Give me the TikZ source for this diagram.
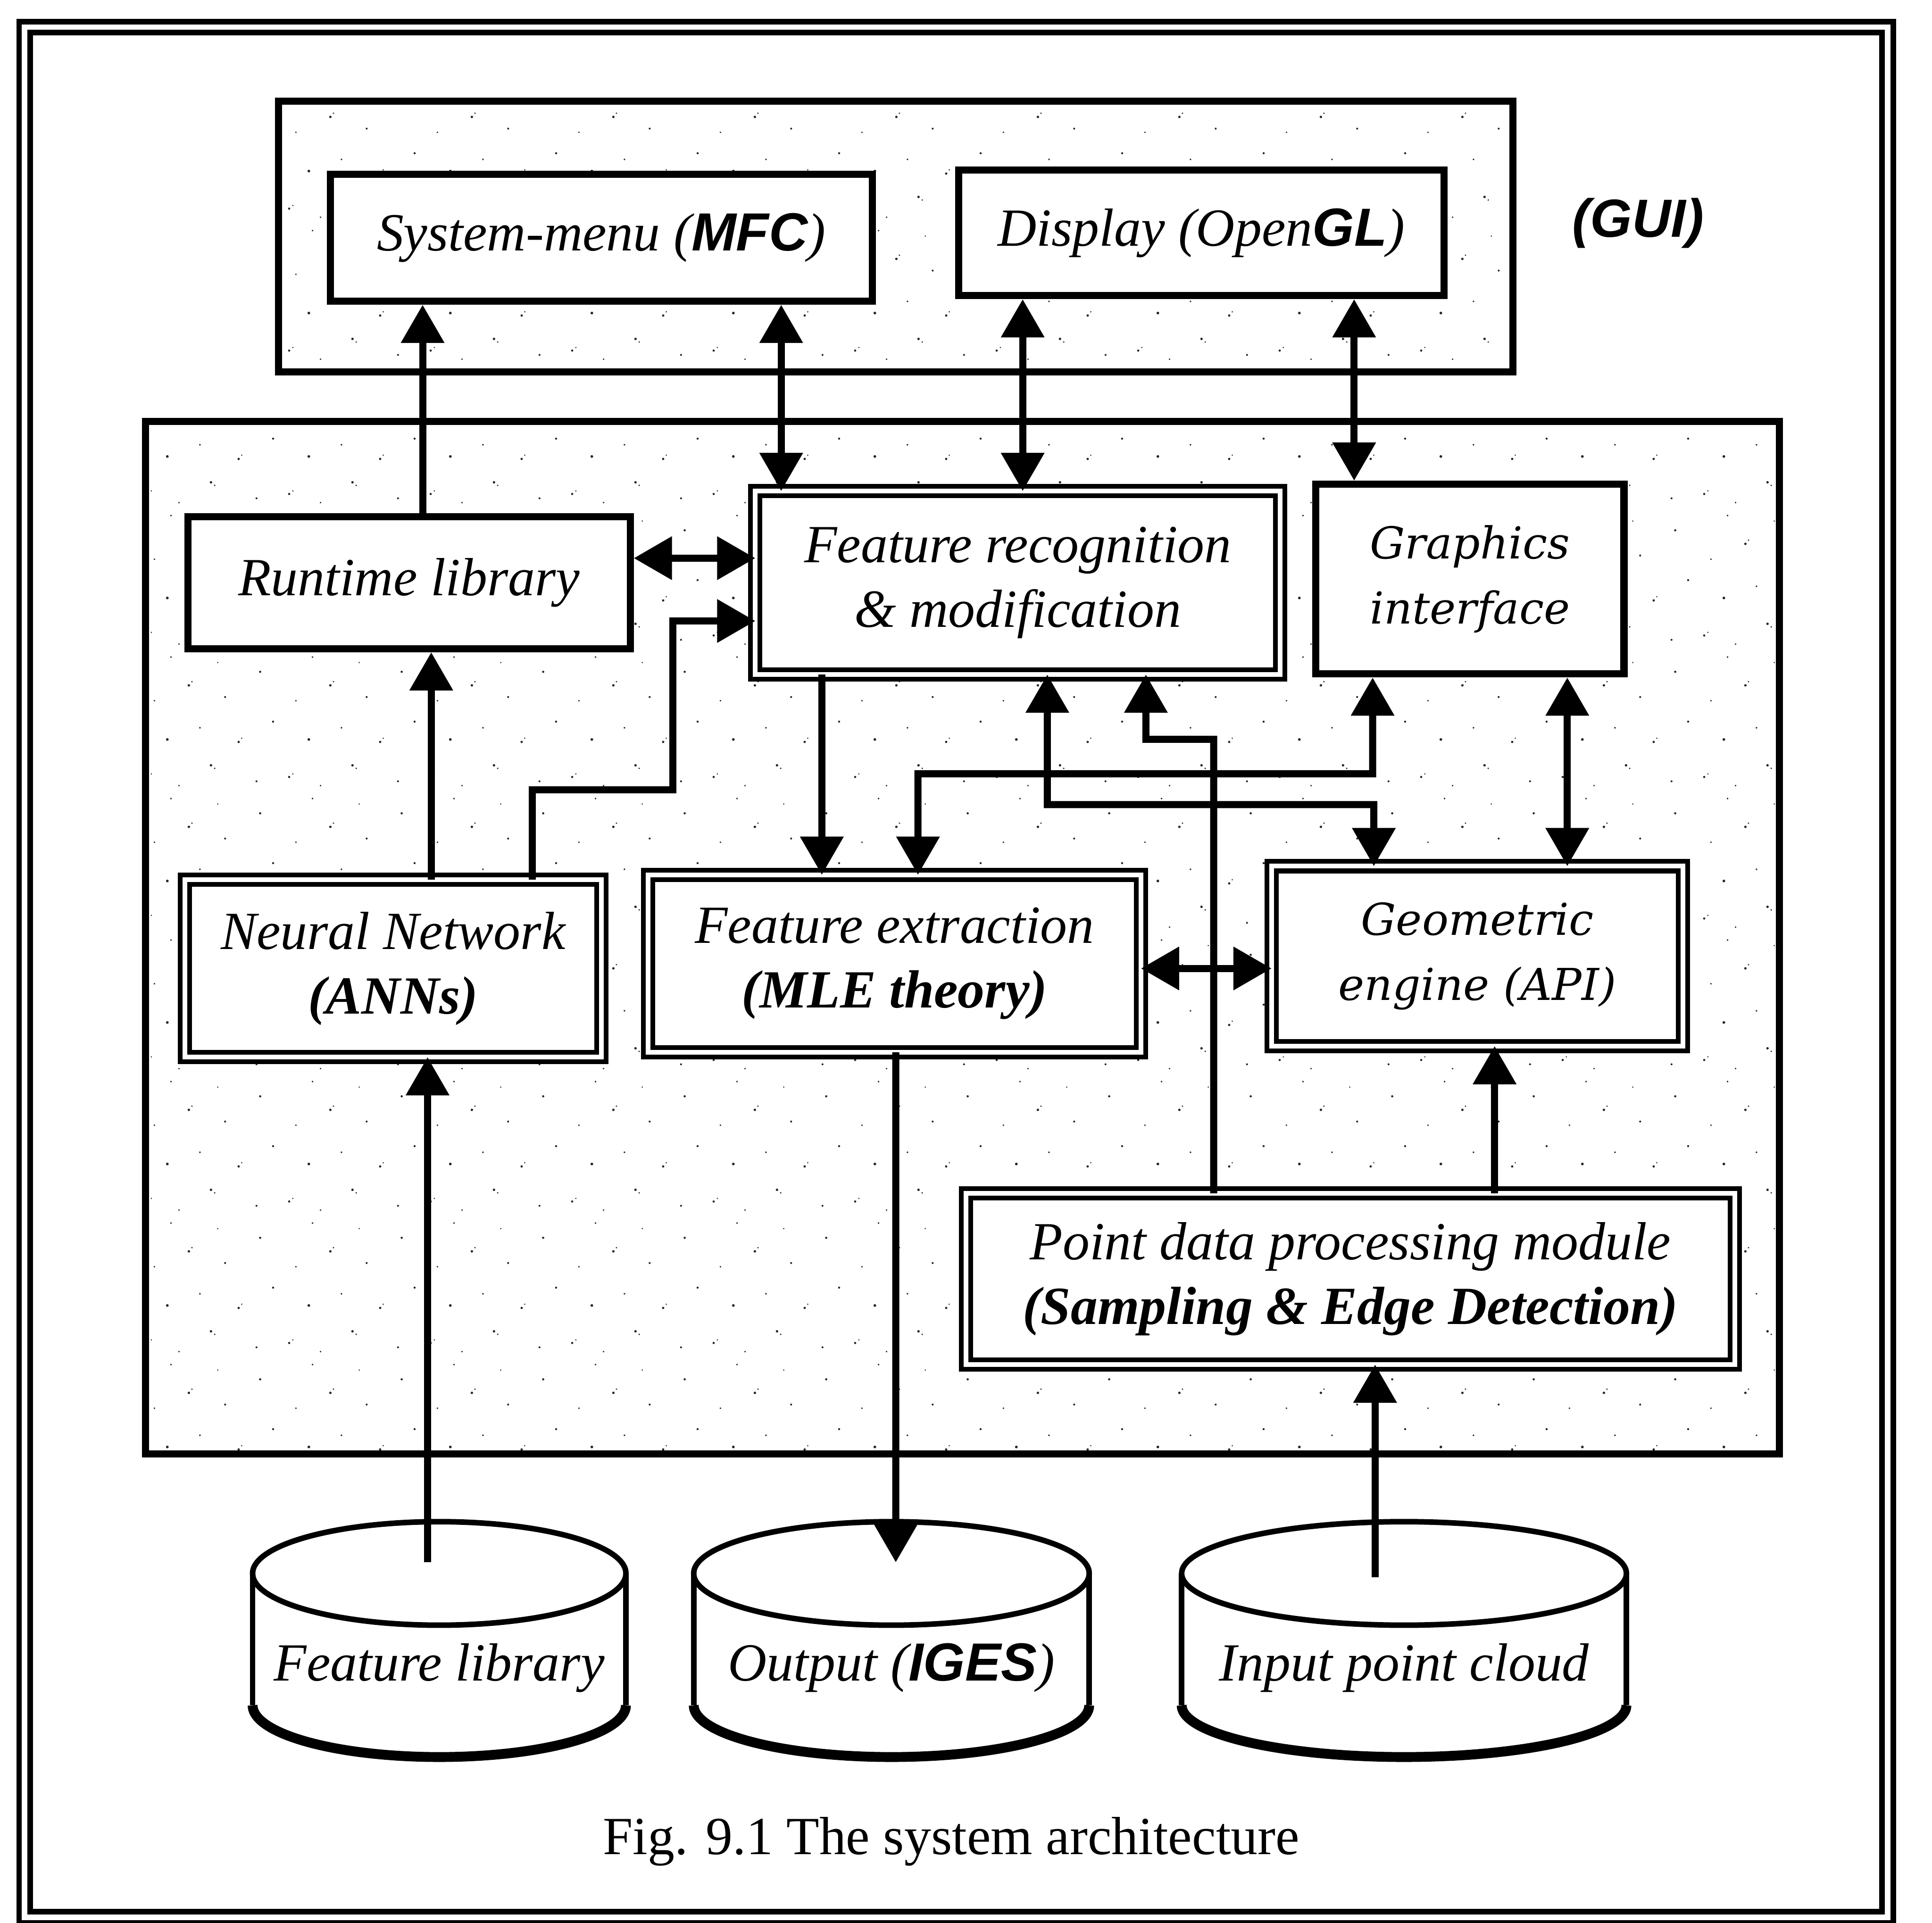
\documentclass[tikz,border=0pt]{standalone}
\usepackage{fontspec}
\setmainfont{Liberation Serif}
\newfontfamily\guifont{Liberation Sans}
\newfontfamily\apifont{DejaVu Serif}
\usepackage{tikz}
\usetikzlibrary{arrows.meta, patterns}

\newcommand{\sansbi}[1]{{\guifont\bfseries\itshape #1}}

% sparse speckle for the two panels
\pgfdeclarepatternformonly{speckle}{\pgfpointorigin}{\pgfpoint{2.3cm}{2.3cm}}{\pgfpoint{2.3cm}{2.3cm}}{%
  \pgfpathcircle{\pgfpoint{0.10cm}{0.22cm}}{0.018cm}
  \pgfpathcircle{\pgfpoint{0.16cm}{0.27cm}}{0.012cm}
  \pgfpathcircle{\pgfpoint{0.61cm}{0.08cm}}{0.014cm}
  \pgfpathcircle{\pgfpoint{1.13cm}{0.41cm}}{0.020cm}
  \pgfpathcircle{\pgfpoint{1.19cm}{0.36cm}}{0.013cm}
  \pgfpathcircle{\pgfpoint{1.87cm}{0.15cm}}{0.016cm}
  \pgfpathcircle{\pgfpoint{0.42cm}{0.83cm}}{0.022cm}
  \pgfpathcircle{\pgfpoint{0.95cm}{1.02cm}}{0.015cm}
  \pgfpathcircle{\pgfpoint{1.58cm}{0.79cm}}{0.019cm}
  \pgfpathcircle{\pgfpoint{1.63cm}{0.85cm}}{0.012cm}
  \pgfpathcircle{\pgfpoint{2.14cm}{1.12cm}}{0.017cm}
  \pgfpathcircle{\pgfpoint{0.21cm}{1.46cm}}{0.014cm}
  \pgfpathcircle{\pgfpoint{0.77cm}{1.71cm}}{0.020cm}
  \pgfpathcircle{\pgfpoint{0.82cm}{1.77cm}}{0.013cm}
  \pgfpathcircle{\pgfpoint{1.36cm}{1.52cm}}{0.016cm}
  \pgfpathcircle{\pgfpoint{1.93cm}{1.93cm}}{0.018cm}
  \pgfpathcircle{\pgfpoint{0.48cm}{2.17cm}}{0.015cm}
  \pgfpathcircle{\pgfpoint{1.24cm}{2.08cm}}{0.012cm}
  \pgfusepath{fill}}

\begin{document}
\begin{tikzpicture}[
  txt/.style={font=\fontsize{24.8pt}{29.8pt}\selectfont\itshape},
  box/.style={txt, rectangle, draw, fill=white, line width=0.115cm, align=center, inner sep=0pt},
  dbox/.style={box, line width=0.077cm, double, double distance=0.077cm, outer sep=0pt},
  api/.style={font=\apifont\fontsize{20.3pt}{30pt}\selectfont\itshape},
  panel/.style={draw, line width=0.115cm, pattern=speckle, pattern color=black!85},
  store/.style={line width=0.09cm},
  arr/.style={line width=0.115cm, -{Triangle[length=0.62cm, width=0.68cm]}},
  darr/.style={line width=0.115cm, {Triangle[length=0.62cm, width=0.68cm]}-{Triangle[length=0.62cm, width=0.68cm]}}]

  \useasboundingbox (0,0) rectangle (31.36,-31.21);

  % page frame
  \draw[line width=0.09cm, double, double distance=0.09cm] (0.4,-0.44) rectangle (30.64,-31.12);

  % GUI panel and core panel
  \draw[panel] (4.52,-1.64) rectangle (24.56,-6.04);
  \draw[panel] (2.36,-6.84) rectangle (28.88,-23.6);
  \node[font=\fontsize{24.8pt}{29.8pt}\selectfont, anchor=base] (guilbl) at (26.59,-3.85) {\sansbi{(GUI)}};

  % GUI
  \node[box, minimum width=8.8cm, minimum height=2.06cm] (sm) at (9.76,-3.86) {System-menu (\sansbi{MFC})};
  \node[box, minimum width=7.88cm, minimum height=2.04cm] (disp) at (19.5,-3.78) {Display (Open\sansbi{GL})};

  % core modules
  \node[box, minimum width=7.18cm, minimum height=2.14cm] (rt) at (6.64,-9.46) {Runtime library};
  \node[dbox, minimum width=8.52cm, minimum height=2.98cm] (fr) at (16.52,-9.46) {Feature recognition\\ \& modification};
  \node[box, api, minimum width=5.0cm, minimum height=3.08cm] (gi) at (23.86,-9.4) {Graphics\\ interface};
  \node[dbox, minimum width=6.76cm, minimum height=2.88cm] (nn) at (6.38,-15.72) {Neural Network\\ {\bfseries (ANNs)}};
  \node[dbox, minimum width=8.0cm, minimum height=2.88cm] (fe) at (14.52,-15.64) {Feature extraction\\ {\bfseries (MLE theory)}};
  \node[dbox, api, minimum width=6.68cm, minimum height=2.92cm] (ge) at (23.98,-15.52) {Geometric\\ engine (API)};
  \node[dbox, minimum width=12.48cm, minimum height=2.78cm] (pd) at (21.92,-20.76) {Point data processing module\\ {\bfseries (Sampling \& Edge Detection)}};

  % data stores
  \foreach \n/\cx/\a/\lbl in {flib/7.13/3.03/{Feature library}, iges/14.47/3.21/{Output (\sansbi{IGES})}, cloud/22.79/3.61/{Input point cloud}} {
    \fill[white] ({\cx-\a},-25.54) -- ({\cx-\a},-27.68) arc[start angle=180, end angle=360, x radius=\a, y radius=0.84] -- ({\cx+\a},-25.54) -- cycle;
    \draw[store] ({\cx-\a},-25.54) -- ({\cx-\a},-27.68);
    \draw[store] ({\cx+\a},-25.54) -- ({\cx+\a},-27.68);
    \draw[line width=0.16cm] ({\cx-\a},-27.68) arc[start angle=180, end angle=360, x radius=\a, y radius=0.84];
    \draw[store, fill=white] (\cx,-25.54) ellipse [x radius=\a, y radius=0.84];
    \node[txt, anchor=base] (\n) at (\cx,-27.28) {\lbl};
  }
  \coordinate (flib-top) at (6.94,-25.36);
  \coordinate (iges-top) at (14.54,-25.36);
  \coordinate (cloud-top) at (22.32,-25.6);

  % GUI links
  \draw[arr] ([xshift=0.22cm]rt.north) -- ([xshift=0.22cm]rt.north |- sm.south);
  \draw[darr] ([xshift=-3.84cm]fr.north) -- ([xshift=-3.84cm]fr.north |- sm.south);
  \draw[darr] ([xshift=0.08cm]fr.north) -- ([xshift=0.08cm]fr.north |- disp.south);
  \draw[darr] ([xshift=-1.88cm]gi.north) -- ([xshift=-1.88cm]gi.north |- disp.south);

  % links between modules
  \draw[darr] ([yshift=0.4cm]rt.east) -- ([yshift=0.4cm]rt.east -| fr.west);
  \draw[arr] ([xshift=2.26cm]nn.north) |- (10.92,-12.82) |- ([yshift=-0.62cm]fr.west);
  \draw[arr] ([xshift=0.62cm]nn.north) -- ([xshift=0.62cm]nn.north |- rt.south);
  \draw[arr] ([xshift=-3.18cm]fr.south) -- ([xshift=-3.18cm]fr.south |- fe.north);
  \draw[darr] ([xshift=-1.58cm]gi.south) |- (14.9,-12.56) -- ([xshift=0.38cm]fe.north);
  \draw[darr] ([xshift=0.48cm]fr.south) |- (22.3,-13.06) -- ([xshift=-1.68cm]ge.north);
  \draw[arr] ([xshift=-2.22cm]pd.north) |- (18.6,-12.0) -- ([xshift=2.08cm]fr.south);
  \draw[darr] ([yshift=-0.08cm]fe.east) -- ([yshift=-0.08cm]fe.east -| ge.west);
  \draw[darr] ([xshift=1.58cm]gi.south) -- ([xshift=1.58cm]gi.south |- ge.north);
  \draw[arr] ([xshift=2.34cm]pd.north) -- ([xshift=2.34cm]pd.north |- ge.south);

  % stores in and out
  \draw[arr] (flib-top) -- (flib-top |- nn.south);
  \draw[arr] ([xshift=0.02cm]fe.south) -- (iges-top);
  \draw[arr] (cloud-top) -- (cloud-top |- pd.south);

  \node[txt, font=\fontsize{24.8pt}{29.8pt}\selectfont, anchor=base] (cap) at (15.44,-30.1) {Fig. 9.1 The system architecture};
\end{tikzpicture}
\end{document}
